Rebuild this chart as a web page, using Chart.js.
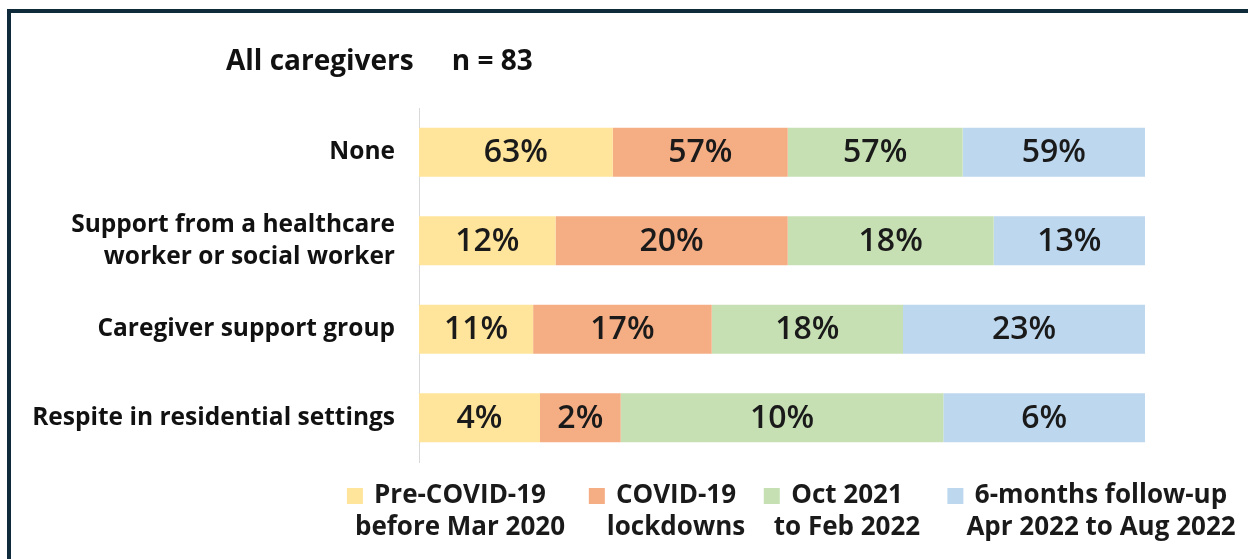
<!DOCTYPE html>
<html>
<head>
<meta charset="utf-8">
<script src="https://cdn.jsdelivr.net/npm/chart.js@4.4.1/dist/chart.umd.min.js"></script>
<style>
  html, body { margin: 0; padding: 0; background: #ffffff; width: 1248px; height: 559px; overflow: hidden; }
  #frame { position: absolute; left: 7px; top: 9px; right: 0; bottom: 0;
           border-top: 4px solid #0f2b3b; border-left: 4px solid #0f2b3b; box-sizing: border-box; }
  #wrap { position: absolute; left: 0; top: 0; width: 1248px; height: 559px; }
  #title { position: absolute; left: 226px; top: 43px; font-family: "Open Sans", sans-serif; font-weight: 700;
           font-size: 28px; line-height: 32px; color: #111; white-space: nowrap; }
  #title .n { margin-left: 38px; }
  .leg { position: absolute; top: 477px; transform: translateX(-50%); text-align: center;
         font-family: "Open Sans", sans-serif; font-weight: 700; font-size: 26px; line-height: 32px;
         color: #1a1a1a; white-space: nowrap; }
  .leg .l1 { position: relative; display: inline-block; }
  .leg .box { position: absolute; left: -27px; top: 11px; width: 16px; height: 16px; }
</style>
</head>
<body>
<div id="wrap"><canvas id="c" width="1248" height="559"></canvas></div>
<div id="frame"></div>
<div id="title"><span>All caregivers</span><span class="n">n = 83</span></div>
<div id="legend"></div>
<script>
// ---- data ----
const categories = ['None', ['Support from a healthcare', 'worker or social worker'], 'Caregiver support group', 'Respite in residential settings'];
const seriesNames = ['Pre-COVID-19 before Mar 2020', 'COVID-19 lockdowns', 'Oct 2021 to Feb 2022', '6-months follow-up Apr 2022 to Aug 2022'];
const legendLines = [['Pre-COVID-19', 'before Mar 2020'], ['COVID-19', 'lockdowns'], ['Oct 2021', 'to Feb 2022'], ['6-months follow-up', 'Apr 2022 to Aug 2022']];
const preCovid  = [62.7, 12.0, 10.8, 3.6];
const lockdowns = [56.6, 20.4, 16.9, 2.4];
const oct2021   = [56.6, 18.1, 18.1, 9.6];
const followUp  = [59.0, 13.3, 22.9, 6.0];
const colors = ['#FFE49B', '#F5AD84', '#C6E0B4', '#BDD7EE'];

const series = [preCovid, lockdowns, oct2021, followUp];
const totals = categories.map((_, i) => series.reduce((s, arr) => s + arr[i], 0));

const datasets = series.map((arr, k) => ({
  label: seriesNames[k],
  data: arr.map((v, i) => v / totals[i] * 100),
  raw: arr,
  backgroundColor: colors[k],
  borderWidth: 0,
  categoryPercentage: 1,
  barPercentage: 0.555
}));

const valueLabels = {
  id: 'valueLabels',
  afterDatasetsDraw(chart) {
    const ctx = chart.ctx;
    ctx.save();
    ctx.font = '600 32px "Open Sans", sans-serif';
    ctx.fillStyle = '#1a1a1a';
    ctx.textAlign = 'center';
    ctx.textBaseline = 'middle';
    chart.data.datasets.forEach((ds, k) => {
      chart.getDatasetMeta(k).data.forEach((el, i) => {
        const p = el.getCenterPoint();
        ctx.fillText(Math.round(ds.raw[i]) + '%', p.x, p.y + 1);
      });
    });
    ctx.restore();
  }
};

new Chart(document.getElementById('c'), {
  type: 'bar',
  data: { labels: categories, datasets },
  options: {
    indexAxis: 'y',
    responsive: false,
    animation: false,
    layout: { padding: { top: 108, bottom: 97, right: 103, left: 0 } },
    plugins: { legend: { display: false }, tooltip: { enabled: false }, title: { display: false } },
    scales: {
      x: { stacked: true, display: false, min: 0, max: 100 },
      y: {
        stacked: true,
        grid: { display: false, drawTicks: false },
        border: { display: true, color: '#d9d9d9', width: 1 },
        afterFit(scale) { scale.width = 419; },
        ticks: {
          color: '#111',
          padding: 24,
          font: { family: '"Open Sans", sans-serif', size: 24.5, weight: 'bold', lineHeight: 1.32 }
        }
      }
    }
  },
  plugins: [valueLabels]
});

// HTML legend
const centers = [460, 676, 847, 1101];
const legend = document.getElementById('legend');
legendLines.forEach((lines, k) => {
  const d = document.createElement('div');
  d.className = 'leg';
  d.style.left = centers[k] + 'px';
  const l1 = document.createElement('span');
  l1.className = 'l1';
  const box = document.createElement('span');
  box.className = 'box';
  box.style.background = colors[k];
  l1.appendChild(box);
  l1.appendChild(document.createTextNode(lines[0]));
  d.appendChild(l1);
  d.appendChild(document.createElement('br'));
  d.appendChild(document.createTextNode(lines[1]));
  legend.appendChild(d);
});
</script>
</body>
</html>
